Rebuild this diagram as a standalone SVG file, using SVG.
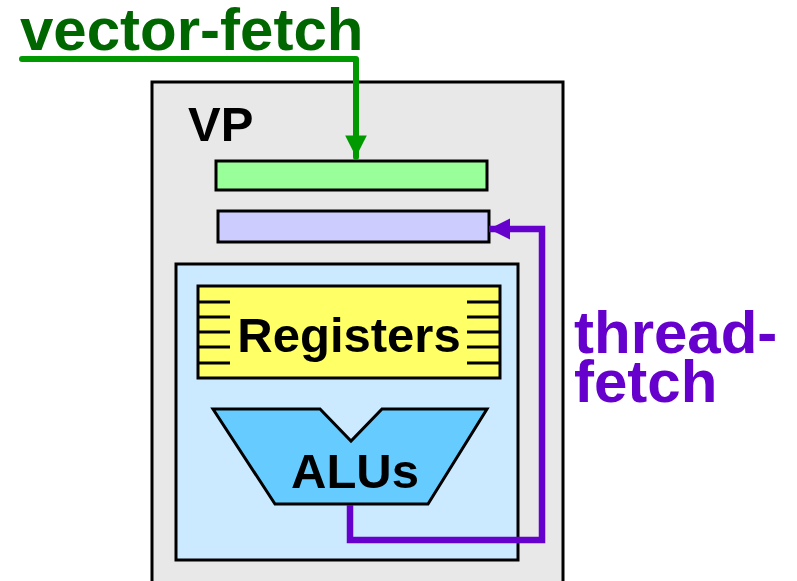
<svg xmlns="http://www.w3.org/2000/svg" width="797" height="581" viewBox="0 0 797 581">
  <style>
    .box { stroke: #000; stroke-width: 3; stroke-linejoin: miter; }
    .lbl { font-family: "Liberation Sans", Arial, sans-serif; font-weight: bold; }
    .tick { stroke: #000; stroke-width: 3; }
  </style>
  <defs>
    <marker id="arrow-green" viewBox="0 0 10 10" refX="10" refY="5" markerWidth="3.6" markerHeight="3.6" markerUnits="strokeWidth" orient="auto">
      <path d="M0,0 L10,5 L0,10 z" fill="#009900"/>
    </marker>
    <marker id="arrow-purple" viewBox="0 0 10 10" refX="10" refY="5" markerWidth="3.3" markerHeight="3.3" markerUnits="strokeWidth" orient="auto">
      <path d="M0,0 L10,5 L0,10 z" fill="#6600cc"/>
    </marker>
  </defs>

  <rect width="797" height="581" fill="#ffffff"/>

  <!-- virtual processor outline -->
  <g id="vp">
    <rect class="box" x="152" y="82" width="411" height="520" fill="#e8e8e8"/>
    <text class="lbl" x="188" y="141" font-size="49" fill="#000">VP</text>
  </g>

  <!-- instruction buffers -->
  <g id="vector-buffer">
    <rect class="box" x="216" y="161" width="271" height="29" fill="#99ff99"/>
  </g>
  <g id="thread-buffer">
    <rect class="box" x="218" y="211" width="271" height="31" fill="#ccccff"/>
  </g>

  <!-- execution lane -->
  <g id="lane">
    <rect class="box" x="176" y="264" width="342" height="296" fill="#cceaff"/>
  </g>

  <g id="registers">
    <rect class="box" x="198" y="286" width="302" height="92" fill="#ffff66"/>
    <g class="tick">
      <line x1="198" y1="302" x2="230" y2="302"/>
      <line x1="198" y1="317" x2="230" y2="317"/>
      <line x1="198" y1="332" x2="230" y2="332"/>
      <line x1="198" y1="347" x2="230" y2="347"/>
      <line x1="198" y1="363" x2="230" y2="363"/>
      <line x1="467" y1="302" x2="500" y2="302"/>
      <line x1="467" y1="317" x2="500" y2="317"/>
      <line x1="467" y1="332" x2="500" y2="332"/>
      <line x1="467" y1="347" x2="500" y2="347"/>
      <line x1="467" y1="363" x2="500" y2="363"/>
    </g>
    <text class="lbl" x="349" y="352" font-size="49" text-anchor="middle" fill="#000">Registers</text>
  </g>

  <g id="alus">
    <path class="box" d="M213,409 L320,409 L351,441 L382,409 L487,409 L428,504 L275,504 Z" fill="#66ccff"/>
    <text class="lbl" x="355" y="488" font-size="49" text-anchor="middle" fill="#000">ALUs</text>
  </g>

  <!-- fetch paths -->
  <g id="connectors" fill="none" stroke-linecap="round" stroke-linejoin="round">
    <path d="M22,59 L356,59 L356,157" stroke="#009900" stroke-width="6" marker-end="url(#arrow-green)"/>
    <path d="M350,505 L350,540 L542,540 L542,229 L489,229" stroke="#6600cc" stroke-width="6.5" stroke-linecap="butt" stroke-linejoin="miter" marker-end="url(#arrow-purple)"/>
  </g>

  <!-- labels -->
  <g id="labels">
    <text class="lbl" x="20" y="50" font-size="60" fill="#006600">vector-fetch</text>
    <text class="lbl" x="574" y="353" font-size="60" fill="#6600cc">thread-</text>
    <text class="lbl" x="574" y="402" font-size="60" fill="#6600cc">fetch</text>
  </g>
</svg>
